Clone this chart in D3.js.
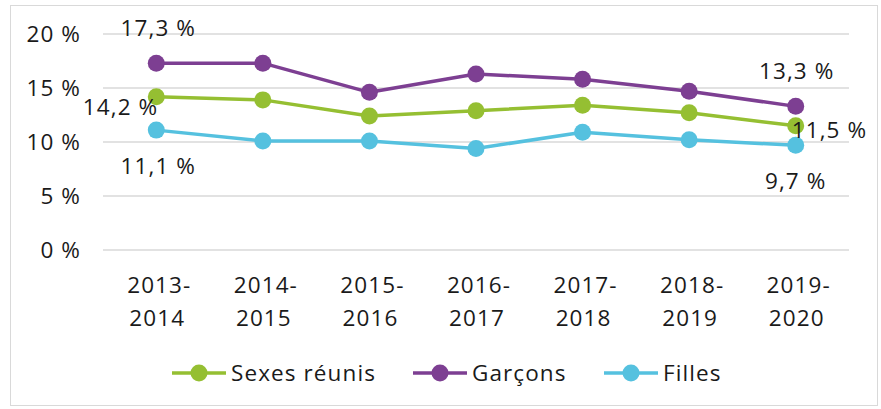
<!DOCTYPE html>
<html><head><meta charset="utf-8">
<script src="https://cdn.jsdelivr.net/npm/d3@7"></script>
<style>body{margin:0;background:#fff}text{font-family:"Open Sans",sans-serif;fill:#1a1a1a;letter-spacing:1.1px}</style>
</head><body><svg id="c" width="881" height="409"></svg>
<script>
const categories = ["2013-2014","2014-2015","2015-2016","2016-2017","2017-2018","2018-2019","2019-2020"];
const sexesReunis = [14.2,13.9,12.4,12.9,13.4,12.7,11.5];
const garcons = [17.3,17.3,14.6,16.3,15.8,14.7,13.3];
const filles = [11.1,10.1,10.1,9.4,10.9,10.2,9.7];
const yTicks = [0,5,10,15,20];
const seriesNames = ["Sexes réunis","Garçons","Filles"];
const colors = ["#95bf32","#7d3f92","#55c1df"];
const FS = 22.5;

const svg = d3.select("#c");
svg.append("rect").attr("x",10.5).attr("y",5.5).attr("width",867).attr("height",400)
  .attr("fill","#fff").attr("stroke","#d9d9d9");
const x = d3.scaleBand().domain(categories).range([103,849]);
const y = d3.scaleLinear().domain([0,20]).range([250,34]);
const fmt = v => d3.format(".1f")(v).replace(".",",")+" %";

// grid
svg.append("g").selectAll("line").data(yTicks).join("line")
  .attr("x1",103).attr("x2",849).attr("y1",d=>y(d)).attr("y2",d=>y(d))
  .attr("stroke","#d9d9d9").attr("stroke-width",1.5);
const yAxis = svg.append("g").attr("transform","translate(103,0)")
  .call(d3.axisLeft(y).tickValues(yTicks).tickSize(0).tickPadding(22).tickFormat(d=>d+" %"));
yAxis.select(".domain").remove();
yAxis.selectAll("text").attr("font-size",FS).attr("font-family","'Open Sans',sans-serif").attr("fill","#1a1a1a").attr("dy","0.35em");

// x labels
const xg = svg.append("g").attr("transform","translate(0,250)")
  .call(d3.axisBottom(x).tickSize(0).tickFormat(""));
xg.select(".domain").remove();
xg.selectAll(".tick").each(function(d){
  const parts = d.split("-");
  const t = d3.select(this).append("text").attr("font-size",FS).attr("text-anchor","middle").attr("fill","#1a1a1a");
  t.append("tspan").attr("x",3).attr("y",43).text(parts[0]+"-");
  t.append("tspan").attr("x",1).attr("y",76).text(parts[1]);
});

const allSeries = [sexesReunis,garcons,filles];
const line = d3.line().x((d,i)=>x(categories[i])+x.bandwidth()/2).y(d=>y(d));
allSeries.forEach((s,k)=>{
  svg.append("path").datum(s).attr("d",line).attr("fill","none")
    .attr("stroke",colors[k]).attr("stroke-width",3.5).attr("stroke-linejoin","round");
});
allSeries.forEach((s,k)=>{
  svg.append("g").selectAll("circle").data(s).join("circle")
    .attr("cx",(d,i)=>x(categories[i])+x.bandwidth()/2).attr("cy",d=>y(d))
    .attr("r",8.5).attr("fill",colors[k]);
});

// data labels
const cx = i => x(categories[i])+x.bandwidth()/2;
const last = categories.length-1;
const labels = [
  {v:garcons[0], x:cx(0)+2, y:y(garcons[0])-35, a:"middle"},
  {v:garcons[last], x:cx(last)+1, y:y(garcons[last])-35, a:"middle"},
  {v:sexesReunis[0], x:cx(0)+2, y:y(sexesReunis[0])+10, a:"end"},
  {v:sexesReunis[last], x:cx(last)-4, y:y(sexesReunis[last])+4, a:"start"},
  {v:filles[0], x:cx(0)+2, y:y(filles[0])+36, a:"middle"},
  {v:filles[last], x:cx(last), y:y(filles[last])+36, a:"middle"}
];
svg.append("g").selectAll("text").data(labels).join("text")
  .attr("x",d=>d.x).attr("y",d=>d.y).attr("dy","0.35em").attr("text-anchor",d=>d.a)
  .attr("font-size",FS).text(d=>fmt(d.v));

// legend
const legX = [172,413,604];
const lg = svg.append("g");
seriesNames.forEach((n,k)=>{
  const g = lg.append("g").attr("transform",`translate(${legX[k]},373)`);
  g.append("line").attr("x1",0).attr("x2",54).attr("stroke",colors[k]).attr("stroke-width",3.5);
  g.append("circle").attr("cx",27).attr("r",8.5).attr("fill",colors[k]);
  g.append("text").attr("x",59).attr("dy","0.35em").attr("font-size",FS).text(n);
});
</script></body></html>
